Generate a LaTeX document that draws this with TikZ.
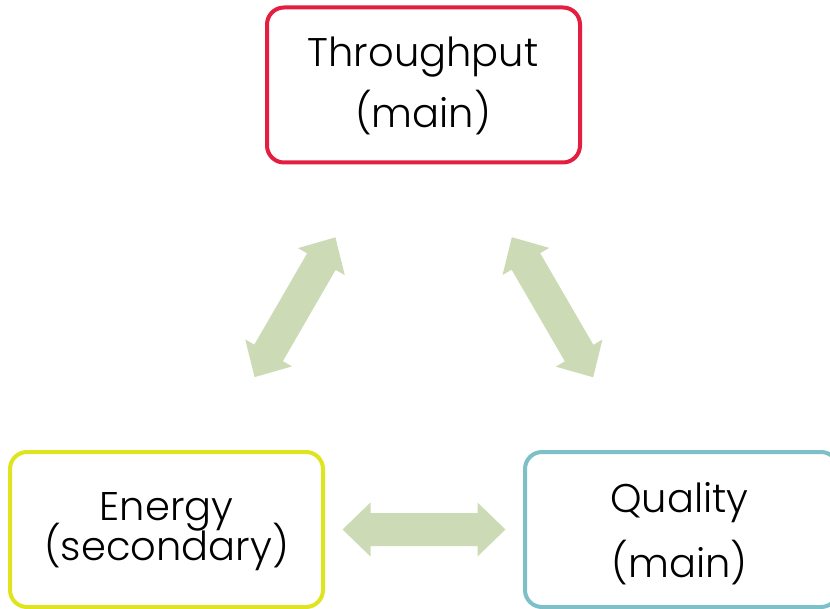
\documentclass[tikz,border=0pt]{standalone}
\usepackage{fontspec}
\setmainfont{Poppins}[UprightFont=* Light]
\usetikzlibrary{calc}
\definecolor{tpred}{RGB}{227,30,64}
\definecolor{enyel}{RGB}{222,228,30}
\definecolor{qteal}{RGB}{126,192,200}
\definecolor{arrgreen}{RGB}{204,219,181}
\tikzset{
  box/.style={draw=#1, line width=4pt, rounded corners=17pt,
    minimum width=313pt, minimum height=155pt, inner sep=0pt, fill=white},
  txt/.style={font=\fontsize{40}{40}\selectfont, inner sep=0pt, anchor=base},
  fatarrow/.style={fill=arrgreen, draw=none}
}
% fat double arrow between the centres of two nodes
\newcommand{\fatdbl}[2]{%
  \path[fatarrow]
    ($(#1)!176pt!(#2)$)
    -- ($($(#1)!204pt!(#2)$)!27pt!90:(#2)$)
    -- ($($(#1)!204pt!(#2)$)!16.5pt!90:(#2)$)
    -- ($($(#2)!204pt!(#1)$)!16.5pt!-90:(#1)$)
    -- ($($(#2)!204pt!(#1)$)!27pt!-90:(#1)$)
    -- ($(#2)!176pt!(#1)$)
    -- ($($(#2)!204pt!(#1)$)!27pt!90:(#1)$)
    -- ($($(#2)!204pt!(#1)$)!16.5pt!90:(#1)$)
    -- ($($(#1)!204pt!(#2)$)!16.5pt!-90:(#2)$)
    -- ($($(#1)!204pt!(#2)$)!27pt!-90:(#2)$)
    -- cycle;}
\begin{document}
\begin{tikzpicture}[x=1pt,y=-1pt]
  \path[use as bounding box] (0,0) rectangle (830,609);
  \clip (0,0) rectangle (830,609);
  % boxes
  \node[box=tpred] (tp) at (423.5,85) {};
  \node[box=enyel] (en) at (166.5,529.5) {};
  \node[box=qteal] (ql) at (681.5,529.5) {};
  % texts
  \node[txt] (tpA) at (423,67) {Throughput};
  \node[txt] (tpB) at (423,128) {(main)};
  \node[txt] (enA) at (166.5,520) {Energy};
  \node[txt] (enB) at (166.5,560) {(secondary)};
  \node[txt] (qlA) at (679.5,512) {Quality};
  \node[txt] (qlB) at (679.5,577) {(main)};
  % arrows
  \fatdbl{en.center}{tp.center}
  \fatdbl{tp.center}{ql.center}
  \fatdbl{en.center}{ql.center}
\end{tikzpicture}
\end{document}
